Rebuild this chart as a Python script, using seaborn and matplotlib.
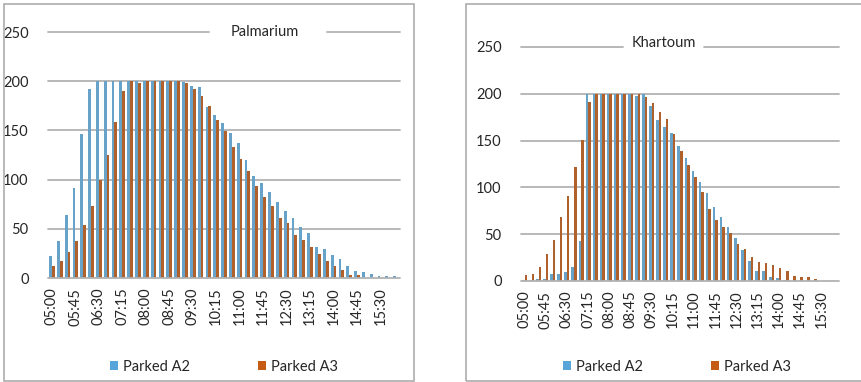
import matplotlib
matplotlib.use("Agg")
import matplotlib.pyplot as plt
from matplotlib.patches import Patch, Rectangle
import pandas as pd
import seaborn as sns

# 15-minute slots from 05:00 to 16:00
times = [f"{h:02d}:{m:02d}" for h in range(5, 17) for m in (0, 15, 30, 45)][:45]
tick_labels = times[::3]

series = ["Parked A2", "Parked A3"]
colors = ["#57A5D9", "#C65B14"]

palmarium_a2 = [22, 38, 64, 91, 146, 192, 200, 200, 200, 200, 200, 200, 200, 200, 200,
                200, 200, 199, 195, 194, 174, 166, 158, 147, 137, 120, 104, 97, 87, 77,
                68, 61, 52, 46, 32, 29, 23, 19, 12, 7, 6, 4, 2, 2, 2]
palmarium_a3 = [12, 17, 26, 38, 54, 73, 100, 125, 159, 190, 200, 198, 200, 200, 200,
                200, 200, 198, 192, 185, 175, 161, 149, 133, 121, 109, 93, 82, 73, 61,
                56, 44, 39, 31, 24, 17, 12, 8, 3.5, 3.5, 0, 0, 0, 0, 0]

khartoum_a2 = [1, 1, 2, 2, 7, 8, 10, 15, 43, 200, 200, 200, 200, 200, 200,
               200, 197.5, 200, 187, 172, 164, 158, 144, 131, 118, 106, 94, 79, 68, 58,
               46, 33, 21, 11, 11, 4, 3, 1, 0.5, 0, 0, 0, 0, 0, 0]
khartoum_a3 = [6, 7, 15, 29, 44, 68, 91, 122, 151, 191, 200, 200, 200, 200, 200,
               200, 200, 197, 190, 181, 173, 157, 139, 124, 111, 95, 77, 65, 58, 51,
               40, 34, 26, 20, 19, 17, 14, 11, 5, 4, 4, 2, 0.5, 0, 0]

yticks = [0, 50, 100, 150, 200, 250]

sns.set_theme(style="white")
plt.rcParams["font.family"] = ["Lato", "DejaVu Sans"]

W, H = 861, 382
fig = plt.figure(figsize=(W / 100, H / 100), dpi=100)
fig.patch.set_facecolor("white")

GRID = "#B2B2B2"
TEXT = "#262626"


def frame(x0, y0, x1, y1):
    fig.add_artist(Rectangle((x0 / W, 1 - y1 / H), (x1 - x0) / W, (y1 - y0) / H,
                             transform=fig.transFigure, fill=False,
                             edgecolor="#ADADAD", linewidth=1.2))


def panel(rect, a2, a3, title, title_pos, gap, legend_x):
    left, top, right, bottom = rect
    ax = fig.add_axes([left / W, 1 - bottom / H, (right - left) / W, (bottom - top) / H])
    df = pd.DataFrame({
        "time": times * 2,
        "value": a2 + a3,
        "series": [series[0]] * len(times) + [series[1]] * len(times),
    })
    sns.barplot(data=df, x="time", y="value", hue="series", palette=colors,
                width=0.72, gap=0, linewidth=0, legend=False, ax=ax, zorder=2)
    ax.set_ylim(0, 250)
    ax.set_xlim(-0.5, len(times) - 0.5)
    for sp in ax.spines.values():
        sp.set_visible(False)
    for v in yticks:
        if v == 250:
            ax.axhline(v, xmin=0, xmax=gap[0], color=GRID, lw=1.3, clip_on=False, zorder=1)
            ax.axhline(v, xmin=gap[1], xmax=1, color=GRID, lw=1.3, clip_on=False, zorder=1)
        else:
            ax.axhline(v, color=GRID, lw=1.3, clip_on=False, zorder=1 if v else 3)
    ax.set_yticks(yticks)
    ax.set_yticklabels([str(v) for v in yticks], fontsize=10.5, color=TEXT)
    ax.set_xticks(range(0, len(times), 3))
    ax.set_xticklabels(tick_labels, rotation=90, fontsize=10.5, color=TEXT)
    ax.tick_params(axis="both", length=0)
    ax.tick_params(axis="y", pad=14)
    ax.tick_params(axis="x", pad=7)
    ax.set_xlabel("")
    ax.set_ylabel("")
    ax.text(title_pos[0], title_pos[1], title, transform=ax.transAxes,
            ha="center", va="center", fontsize=10.5, color=TEXT)
    handles = [Patch(facecolor=c, edgecolor="none", label=s) for c, s in zip(colors, series)]
    fig.legend(handles=handles, loc="center", bbox_to_anchor=(legend_x / W, 1 - 367 / H),
               ncol=2, frameon=False, fontsize=10.5, handlelength=0.55, handleheight=0.55,
               handletextpad=0.35, columnspacing=4.6, labelcolor=TEXT)
    return ax


frame(4, 4, 414, 381)
frame(466, 4, 870, 381)

panel((48, 32, 400, 278), palmarium_a2, palmarium_a3, "Palmarium",
      (0.615, 1.0), (0.457, 0.793), 224)
panel((521, 47, 839, 281), khartoum_a2, khartoum_a3, "Khartoum",
      (0.45, 1.015), (0.322, 0.575), 677)

fig.savefig("out.png", dpi=100, facecolor="white")
